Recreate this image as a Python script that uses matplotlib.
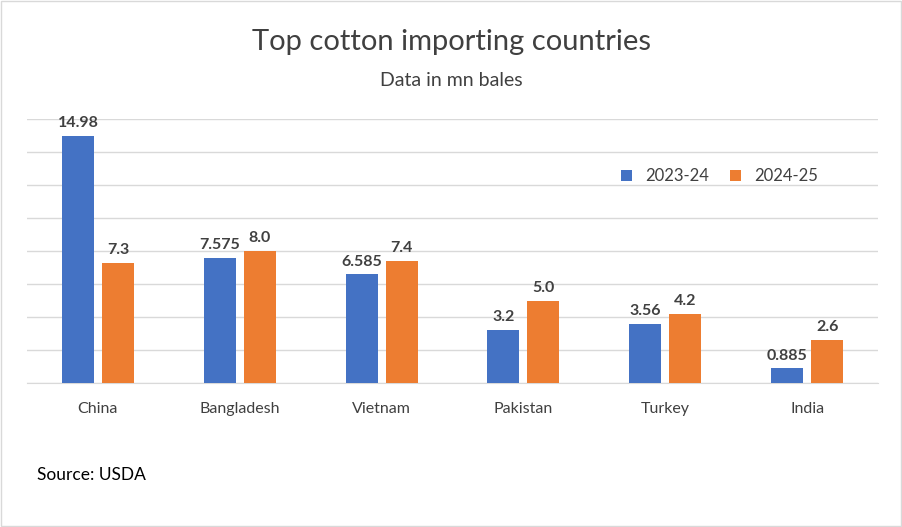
import matplotlib.pyplot as plt
import numpy as np

countries = ['China', 'Bangladesh', 'Vietnam', 'Pakistan', 'Turkey', 'India']
vals_2324 = [14.98, 7.575, 6.585, 3.2, 3.56, 0.885]
vals_2425 = [7.3, 8.0, 7.4, 5.0, 4.2, 2.6]
labels_2324 = ['14.98', '7.575', '6.585', '3.2', '3.56', '0.885']
labels_2425 = ['7.3', '8.0', '7.4', '5.0', '4.2', '2.6']

plt.rcParams['font.family'] = 'Lato'
fig = plt.figure(figsize=(9.02, 5.27), dpi=100)
ax = fig.add_axes([27/902, 1-383/527, 851/902, 264/527])

x = np.arange(len(countries))
w = 0.225
off = 0.141
b1 = ax.bar(x - off, vals_2324, w, color='#4472C4', label='2023-24', zorder=3)
b2 = ax.bar(x + off, vals_2425, w, color='#ED7D31', label='2024-25', zorder=3)
for bars, labs in [(b1, labels_2324), (b2, labels_2425)]:
    for b, t in zip(bars, labs):
        ax.text(b.get_x() + b.get_width()/2, b.get_height() + 0.35, t,
                ha='center', va='bottom', fontsize=11.5, fontweight='bold', color='#404040')

ax.set_xlim(-0.5, len(countries) - 0.5)
ax.set_ylim(0, 16)
ax.set_yticks(np.arange(0, 17, 2))
ax.set_yticklabels([])
ax.tick_params(axis='y', length=0)
ax.tick_params(axis='x', length=0, pad=14, labelsize=11.5, labelcolor='#404040')
ax.set_xticks(x)
ax.set_xticklabels(countries)
ax.grid(axis='y', color='#D9D9D9', linewidth=1, zorder=0)
for s in ['top', 'right', 'left']:
    ax.spines[s].set_visible(False)
ax.spines['bottom'].set_color('#D9D9D9')

ax.legend(loc='upper left', bbox_to_anchor=(0.68, 0.87), ncol=2, frameon=False,
          fontsize=12, handlelength=0.7, handleheight=0.7, columnspacing=1.2,
          labelcolor='#404040')

fig.text(0.5, 1-42/527, 'Top cotton importing countries', ha='center', va='center',
         fontsize=21, color='#404040')
fig.text(0.5, 1-80/527, 'Data in mn bales', ha='center', va='center',
         fontsize=14, color='#404040')
fig.text(37/902, 1-475/527, 'Source: USDA', ha='left', va='center', fontsize=12.5, color='black')

fig.patches.append(plt.Rectangle((0.001, 0.001), 0.998, 0.998, transform=fig.transFigure,
                                 fill=False, edgecolor='#D9D9D9', linewidth=1))
fig.savefig('out.png', dpi=100)
